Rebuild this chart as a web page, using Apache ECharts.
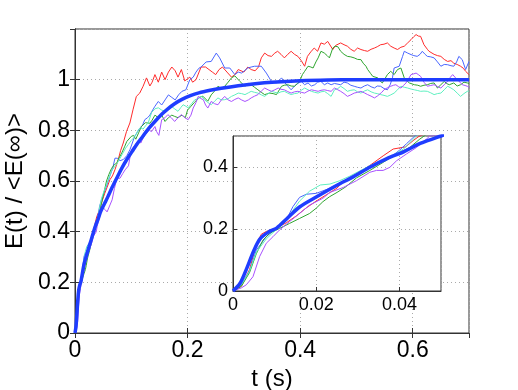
<!DOCTYPE html>
<html>
<head>
<meta charset="utf-8">
<script src="https://cdn.jsdelivr.net/npm/echarts@6/dist/echarts.min.js"></script>
<style>
  html, body { margin: 0; padding: 0; background: #fff; }
  #chart { width: 518px; height: 390px; }
</style>
</head>
<body>
<div id="chart"></div>
<script>
// five single runs [t (s), E/<E>] plus the averaged curve
const runRed = [[0,0],[0.002,0.015],[0.004,0.07],[0.0056,0.15],[0.0068,0.183],[0.008,0.192],[0.0104,0.203],[0.0128,0.22],[0.0152,0.242],[0.0176,0.268],[0.02,0.29],[0.0224,0.31],[0.025,0.332],[0.0265,0.352],[0.0297,0.378],[0.0329,0.405],[0.0361,0.436],[0.0385,0.458],[0.0415,0.465],[0.0433,0.485],[0.0445,0.497],[0.048,0.52],[0.053,0.552],[0.057,0.575],[0.062,0.605],[0.0665,0.62],[0.0709,0.644],[0.0768,0.684],[0.081,0.72],[0.0857,0.75],[0.0916,0.796],[0.0975,0.829],[0.103,0.881],[0.109,0.934],[0.115,0.947],[0.121,0.974],[0.127,1.007],[0.133,0.975],[0.137,0.99],[0.142,1.02],[0.148,0.99],[0.154,1.03],[0.16,1.0],[0.166,1.03],[0.172,1.05],[0.178,1.035],[0.183,1.01],[0.189,1.04],[0.195,0.995],[0.204,1.01],[0.209,0.99],[0.215,1.0],[0.224,1.05],[0.232,1.05],[0.238,1.04],[0.244,1.03],[0.25,1.02],[0.256,1.04],[0.262,1.05],[0.27,1.03],[0.278,1.01],[0.284,1.02],[0.29,1.04],[0.3,1.03],[0.307,1.05],[0.313,1.04],[0.32,1.035],[0.326,1.05],[0.331,1.086],[0.337,1.105],[0.343,1.095],[0.349,1.092],[0.355,1.105],[0.36,1.112],[0.366,1.1],[0.372,1.086],[0.378,1.1],[0.384,1.112],[0.39,1.1],[0.396,1.092],[0.402,1.075],[0.408,1.053],[0.413,1.092],[0.419,1.11],[0.425,1.125],[0.431,1.112],[0.437,1.145],[0.443,1.14],[0.449,1.151],[0.458,1.119],[0.463,1.135],[0.472,1.145],[0.478,1.138],[0.484,1.132],[0.49,1.12],[0.496,1.112],[0.502,1.125],[0.508,1.119],[0.514,1.115],[0.52,1.112],[0.526,1.12],[0.532,1.125],[0.537,1.13],[0.543,1.138],[0.549,1.14],[0.555,1.145],[0.561,1.132],[0.567,1.125],[0.573,1.119],[0.579,1.128],[0.585,1.132],[0.591,1.145],[0.597,1.158],[0.602,1.17],[0.606,1.178],[0.61,1.172],[0.614,1.171],[0.62,1.138],[0.626,1.12],[0.629,1.112],[0.638,1.1],[0.644,1.095],[0.65,1.092],[0.656,1.08],[0.662,1.072],[0.668,1.075],[0.673,1.065],[0.679,1.06],[0.685,1.053],[0.69,1.045],[0.694,1.033],[0.7,1.02]];

const runBlue = [[0,0],[0.002,0.02],[0.004,0.065],[0.0056,0.132],[0.008,0.175],[0.0104,0.202],[0.0128,0.229],[0.0144,0.272],[0.016,0.302],[0.0176,0.312],[0.02,0.315],[0.023,0.33],[0.026,0.35],[0.029,0.372],[0.033,0.4],[0.0377,0.43],[0.0401,0.455],[0.0417,0.475],[0.0437,0.5],[0.047,0.525],[0.051,0.55],[0.056,0.58],[0.062,0.62],[0.067,0.65],[0.071,0.69],[0.075,0.69],[0.08,0.68],[0.086,0.685],[0.092,0.7],[0.0975,0.723],[0.106,0.776],[0.11,0.79],[0.115,0.809],[0.12,0.82],[0.124,0.842],[0.129,0.85],[0.133,0.86],[0.138,0.88],[0.142,0.895],[0.148,0.914],[0.154,0.9],[0.16,0.92],[0.166,0.94],[0.172,0.93],[0.178,0.92],[0.184,0.94],[0.19,0.954],[0.197,0.96],[0.204,1.0],[0.21,1.01],[0.215,1.03],[0.22,1.045],[0.224,1.05],[0.233,1.07],[0.242,1.072],[0.251,1.105],[0.257,1.086],[0.266,1.046],[0.275,1.046],[0.284,1.02],[0.29,1.03],[0.296,1.026],[0.307,1.046],[0.313,1.05],[0.319,1.053],[0.331,1.053],[0.34,1.026],[0.349,0.993],[0.358,0.987],[0.367,1.007],[0.372,0.99],[0.378,0.975],[0.384,0.96],[0.39,0.975],[0.396,0.985],[0.402,0.993],[0.408,0.98],[0.414,0.987],[0.42,0.975],[0.426,0.98],[0.431,0.99],[0.437,0.993],[0.443,0.98],[0.449,0.987],[0.455,0.98],[0.461,0.985],[0.472,0.98],[0.478,0.99],[0.484,0.987],[0.49,0.978],[0.496,0.974],[0.502,0.97],[0.508,0.967],[0.514,0.975],[0.52,0.98],[0.526,0.972],[0.532,0.967],[0.537,0.975],[0.543,0.974],[0.549,0.965],[0.555,0.96],[0.56,0.98],[0.564,1.007],[0.567,1.046],[0.576,1.053],[0.582,1.092],[0.585,1.112],[0.591,1.105],[0.597,1.099],[0.602,1.095],[0.608,1.092],[0.613,1.1],[0.617,1.112],[0.622,1.1],[0.626,1.092],[0.632,1.09],[0.638,1.086],[0.644,1.07],[0.65,1.053],[0.656,1.06],[0.662,1.059],[0.668,1.055],[0.673,1.053],[0.678,1.07],[0.682,1.092],[0.688,1.079],[0.694,1.04],[0.7,1.072]];

const runGreen = [[0,0],[0.002,0.015],[0.004,0.06],[0.0056,0.12],[0.0072,0.164],[0.0088,0.186],[0.0112,0.202],[0.0136,0.218],[0.016,0.234],[0.0184,0.25],[0.02,0.267],[0.0216,0.288],[0.0232,0.304],[0.025,0.318],[0.027,0.335],[0.0297,0.365],[0.0329,0.389],[0.0361,0.415],[0.0393,0.442],[0.0425,0.463],[0.0449,0.49],[0.047,0.51],[0.05,0.54],[0.056,0.6],[0.06,0.625],[0.065,0.65],[0.07,0.665],[0.074,0.67],[0.078,0.69],[0.083,0.71],[0.088,0.735],[0.092,0.756],[0.1,0.776],[0.104,0.78],[0.108,0.765],[0.113,0.79],[0.118,0.815],[0.125,0.83],[0.133,0.828],[0.137,0.84],[0.142,0.86],[0.148,0.85],[0.154,0.86],[0.16,0.835],[0.166,0.85],[0.172,0.86],[0.177,0.855],[0.183,0.85],[0.19,0.86],[0.196,0.85],[0.2,0.88],[0.206,0.895],[0.212,0.91],[0.221,0.93],[0.227,0.935],[0.236,0.915],[0.242,0.94],[0.248,0.955],[0.254,0.974],[0.26,0.965],[0.266,0.974],[0.272,0.99],[0.278,1.007],[0.284,1.015],[0.287,1.02],[0.293,0.993],[0.302,0.974],[0.308,0.985],[0.313,0.98],[0.319,0.97],[0.325,0.96],[0.331,0.95],[0.337,0.941],[0.346,0.947],[0.352,0.945],[0.358,0.941],[0.363,0.96],[0.367,0.974],[0.372,0.978],[0.378,0.98],[0.384,0.975],[0.39,0.974],[0.395,0.985],[0.399,0.993],[0.404,1.02],[0.408,1.033],[0.414,1.053],[0.419,1.05],[0.423,1.046],[0.428,1.07],[0.432,1.086],[0.437,1.112],[0.443,1.105],[0.448,1.095],[0.452,1.086],[0.458,1.125],[0.462,1.132],[0.467,1.13],[0.472,1.112],[0.478,1.1],[0.484,1.092],[0.49,1.09],[0.496,1.086],[0.502,1.08],[0.508,1.079],[0.512,1.065],[0.517,1.053],[0.52,1.04],[0.525,1.025],[0.529,1.013],[0.538,1.007],[0.542,0.995],[0.546,0.987],[0.551,1.005],[0.555,1.02],[0.561,1.033],[0.567,1.02],[0.573,1.04],[0.579,1.046],[0.585,1.007],[0.59,0.995],[0.594,0.987],[0.603,0.98],[0.609,0.978],[0.614,0.974],[0.62,0.978],[0.626,0.98],[0.632,0.985],[0.638,0.987],[0.644,0.967],[0.65,0.98],[0.656,0.993],[0.66,0.985],[0.665,0.98],[0.673,0.987],[0.679,0.975],[0.685,0.98],[0.691,0.99],[0.697,0.987],[0.7,0.985]];

const runCyan = [[0,0],[0.002,0.02],[0.004,0.065],[0.0056,0.125],[0.008,0.168],[0.0112,0.208],[0.0136,0.245],[0.016,0.29],[0.0184,0.322],[0.021,0.342],[0.0233,0.345],[0.0255,0.355],[0.028,0.37],[0.033,0.405],[0.0377,0.432],[0.041,0.458],[0.0441,0.5],[0.047,0.53],[0.05,0.55],[0.055,0.58],[0.06,0.61],[0.065,0.64],[0.07,0.655],[0.075,0.67],[0.08,0.69],[0.085,0.71],[0.09,0.73],[0.095,0.745],[0.1,0.76],[0.106,0.775],[0.112,0.8],[0.116,0.81],[0.121,0.805],[0.126,0.82],[0.13,0.829],[0.136,0.87],[0.142,0.885],[0.148,0.889],[0.154,0.88],[0.16,0.875],[0.165,0.885],[0.171,0.895],[0.177,0.885],[0.183,0.875],[0.188,0.89],[0.192,0.901],[0.197,0.895],[0.201,0.889],[0.207,0.905],[0.213,0.921],[0.219,0.925],[0.225,0.934],[0.23,0.921],[0.236,0.91],[0.242,0.901],[0.248,0.915],[0.254,0.928],[0.26,0.92],[0.266,0.921],[0.272,0.925],[0.278,0.934],[0.284,0.94],[0.29,0.947],[0.296,0.945],[0.302,0.941],[0.308,0.948],[0.313,0.954],[0.319,0.95],[0.325,0.947],[0.331,0.94],[0.337,0.934],[0.343,0.945],[0.349,0.954],[0.355,0.95],[0.361,0.947],[0.366,0.952],[0.372,0.954],[0.378,0.947],[0.384,0.941],[0.39,0.945],[0.396,0.947],[0.402,0.958],[0.408,0.967],[0.414,0.96],[0.42,0.954],[0.426,0.95],[0.432,0.947],[0.437,0.952],[0.443,0.954],[0.449,0.945],[0.455,0.934],[0.461,0.96],[0.467,0.965],[0.472,0.974],[0.478,0.965],[0.484,0.954],[0.49,0.958],[0.496,0.96],[0.502,0.952],[0.508,0.947],[0.514,0.955],[0.52,0.96],[0.526,0.952],[0.532,0.947],[0.537,0.945],[0.543,0.941],[0.549,0.938],[0.555,0.934],[0.561,0.94],[0.567,0.947],[0.573,0.96],[0.579,0.974],[0.585,0.97],[0.591,0.967],[0.597,0.963],[0.603,0.96],[0.609,0.957],[0.614,0.954],[0.62,0.955],[0.626,0.954],[0.632,0.948],[0.638,0.941],[0.644,0.945],[0.65,0.947],[0.656,0.96],[0.662,0.974],[0.668,0.967],[0.673,0.96],[0.679,0.947],[0.685,0.934],[0.691,0.945],[0.697,0.954],[0.7,0.955]];

const runPurple = [[0,0],[0.002,0.01],[0.0032,0.02],[0.0048,0.046],[0.0064,0.111],[0.008,0.154],[0.0096,0.175],[0.0112,0.197],[0.0136,0.224],[0.016,0.25],[0.0184,0.277],[0.0216,0.299],[0.0233,0.318],[0.0265,0.334],[0.0297,0.356],[0.0329,0.383],[0.0345,0.389],[0.0361,0.389],[0.0377,0.399],[0.0393,0.42],[0.0417,0.442],[0.0441,0.463],[0.0465,0.49],[0.0473,0.5],[0.05,0.505],[0.054,0.486],[0.057,0.478],[0.06,0.48],[0.066,0.526],[0.07,0.57],[0.0744,0.611],[0.08,0.611],[0.085,0.63],[0.089,0.644],[0.095,0.66],[0.1,0.723],[0.106,0.74],[0.112,0.76],[0.117,0.75],[0.121,0.77],[0.127,0.79],[0.132,0.8],[0.136,0.795],[0.142,0.815],[0.145,0.795],[0.149,0.78],[0.154,0.842],[0.16,0.85],[0.165,0.862],[0.171,0.85],[0.177,0.835],[0.183,0.85],[0.189,0.862],[0.195,0.85],[0.201,0.842],[0.206,0.86],[0.21,0.888],[0.215,0.91],[0.219,0.934],[0.224,0.925],[0.228,0.921],[0.232,0.9],[0.236,0.888],[0.242,0.914],[0.248,0.905],[0.254,0.901],[0.26,0.92],[0.266,0.934],[0.272,0.92],[0.278,0.914],[0.284,0.922],[0.29,0.928],[0.296,0.92],[0.302,0.914],[0.308,0.92],[0.313,0.928],[0.319,0.935],[0.325,0.941],[0.331,0.955],[0.337,0.967],[0.343,0.96],[0.349,0.954],[0.355,0.96],[0.361,0.967],[0.366,0.962],[0.372,0.96],[0.378,0.953],[0.384,0.947],[0.39,0.952],[0.396,0.954],[0.402,0.95],[0.408,0.947],[0.414,0.955],[0.42,0.96],[0.426,0.957],[0.432,0.954],[0.437,0.958],[0.443,0.96],[0.449,0.957],[0.455,0.954],[0.461,0.967],[0.467,0.96],[0.472,0.954],[0.478,0.945],[0.484,0.934],[0.49,0.94],[0.496,0.947],[0.502,0.95],[0.508,0.954],[0.514,0.948],[0.52,0.941],[0.526,0.935],[0.532,0.928],[0.537,0.935],[0.54,0.941],[0.545,0.95],[0.549,0.96],[0.555,0.968],[0.561,0.974],[0.566,0.978],[0.57,0.98],[0.575,0.972],[0.579,0.967],[0.584,0.978],[0.588,0.987],[0.593,1.005],[0.597,1.02],[0.602,1.023],[0.606,1.026],[0.61,1.02],[0.614,1.013],[0.62,0.99],[0.626,0.974],[0.632,0.977],[0.638,0.98],[0.644,0.973],[0.65,0.967],[0.656,0.98],[0.662,0.993],[0.667,1.01],[0.671,1.02],[0.675,1.01],[0.679,1.0],[0.684,0.99],[0.688,0.98],[0.693,0.977],[0.697,0.974],[0.7,0.97]];

// averaged curve (thick blue)
const meanCurve = [[0,0],[0.0017,0.025],[0.0033,0.073],[0.005,0.13],[0.0065,0.168],[0.0085,0.19],[0.0105,0.203],[0.013,0.234],[0.016,0.271],[0.02,0.303],[0.025,0.341],[0.029,0.369],[0.033,0.4],[0.037,0.427],[0.041,0.449],[0.045,0.476],[0.05,0.5],[0.055,0.522],[0.06,0.546],[0.066,0.575],[0.075,0.615],[0.083,0.65],[0.092,0.685],[0.101,0.715],[0.11,0.745],[0.12,0.775],[0.13,0.805],[0.142,0.835],[0.155,0.865],[0.165,0.885],[0.177,0.905],[0.19,0.922],[0.205,0.937],[0.22,0.948],[0.24,0.958],[0.26,0.966],[0.29,0.976],[0.32,0.984],[0.35,0.99],[0.4,0.996],[0.45,0.999],[0.5,1.0],[0.6,1.0],[0.7,1.0]];

const runs = [
  { data: runRed, color: '#ff2b2b' },
  { data: runBlue, color: '#4a66ff' },
  { data: runGreen, color: '#2fa52f' },
  { data: runCyan, color: '#5ff0c0' },
  { data: runPurple, color: '#a852ff' }
];

const font = 'Liberation Sans, Arial, Helvetica, sans-serif';
const dark = '#333';
const dots = { show: true, lineStyle: { color: '#aaa', type: [1, 3], width: 1 } };

const chart = echarts.init(document.getElementById('chart'));

function lineSeries(data, color, width, ax, zl) {
  return {
    type: 'line',
    data: data,
    xAxisIndex: ax,
    yAxisIndex: ax,
    zlevel: zl,
    symbol: 'none',
    smooth: width > 2 ? 0.3 : false,
    lineStyle: { color: color, width: width },
    silent: true
  };
}

const series = [];
[0, 2].forEach(ax => {
  const zl = ax === 2 ? 1 : 0;
  runs.forEach(r => series.push(lineSeries(r.data, r.color, 1, ax, zl)));
  series.push(lineSeries(meanCurve, '#1f3dff', 3.5, ax, zl));
});

const option = {
  animation: false,
  backgroundColor: '#fff',
  textStyle: { fontFamily: font },
  grid: [
    { left: 75, top: 29, width: 394, height: 304, show: true, borderColor: dark, borderWidth: 1,
      outerBoundsMode: 'none', containLabel: false },
    { left: 233, top: 136, width: 208, height: 155, show: true, backgroundColor: '#fff',
      borderColor: dark, borderWidth: 1, zlevel: 1, outerBoundsMode: 'none', containLabel: false }
  ],
  xAxis: [
    {
      type: 'value', gridIndex: 0, min: 0, max: 0.7, interval: 0.2,
      name: 't (s)', nameLocation: 'middle', nameGap: 30,
      nameTextStyle: { fontSize: 24, color: '#000', fontFamily: font },
      axisLine: { lineStyle: { color: dark } },
      axisTick: { inside: true, length: 5, lineStyle: { color: dark } },
      axisLabel: { fontSize: 23, color: '#000', margin: 6, showMaxLabel: false, fontFamily: font },
      splitLine: dots
    },
    {
      type: 'value', gridIndex: 0, min: 0, max: 0.7, interval: 0.2, position: 'top',
      axisLine: { lineStyle: { color: dark } },
      axisTick: { inside: true, length: 5, lineStyle: { color: dark } },
      axisLabel: { show: false }, splitLine: { show: false }
    },
    {
      type: 'value', gridIndex: 1, min: 0, max: 0.05, interval: 0.02, zlevel: 1,
      axisLine: { lineStyle: { color: dark } },
      axisTick: { inside: true, length: 4, lineStyle: { color: dark } },
      axisLabel: { fontSize: 18, color: '#000', margin: 5, showMaxLabel: false, fontFamily: font },
      splitLine: dots
    }
  ],
  yAxis: [
    {
      type: 'value', gridIndex: 0, min: 0, max: 1.2, interval: 0.2,
      name: 'E(t) / <E(∞)>', nameLocation: 'middle', nameGap: 46,
      nameTextStyle: { fontSize: 24, color: '#000', fontFamily: font },
      axisLine: { lineStyle: { color: dark } },
      axisTick: { inside: true, length: 5, lineStyle: { color: dark } },
      axisLabel: { fontSize: 23, color: '#000', margin: 5, showMaxLabel: false, fontFamily: font },
      splitLine: dots
    },
    {
      type: 'value', gridIndex: 0, min: 0, max: 1.2, interval: 0.2, position: 'right',
      axisLine: { lineStyle: { color: dark } },
      axisTick: { inside: true, length: 5, lineStyle: { color: dark } },
      axisLabel: { show: false }, splitLine: { show: false }
    },
    {
      type: 'value', gridIndex: 1, min: 0, max: 0.5, interval: 0.2, zlevel: 1,
      axisLine: { lineStyle: { color: dark } },
      axisTick: { inside: true, length: 4, lineStyle: { color: dark } },
      axisLabel: { fontSize: 18, color: '#000', margin: 5, showMaxLabel: false, fontFamily: font },
      splitLine: dots
    }
  ],
  series: series
};

chart.setOption(option);
</script>
</body>
</html>
